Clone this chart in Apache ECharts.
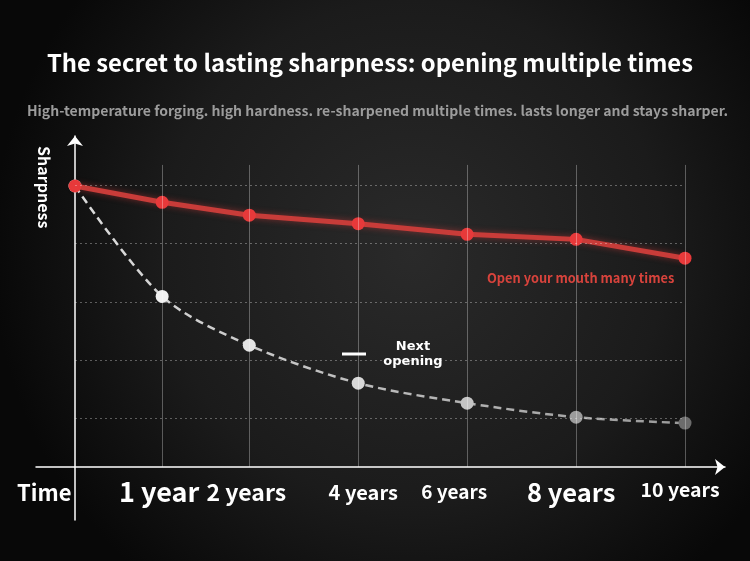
<!DOCTYPE html>
<html>
<head>
<meta charset="UTF-8">
<title></title>
<style>
  html, body { margin: 0; padding: 0; background: #000; }
  #chart { width: 750px; height: 561px; }
</style>
<script src="https://cdn.jsdelivr.net/npm/echarts@6/dist/echarts.min.js"></script>
</head>
<body>
<div id="chart"></div>
<script>
// x positions of the time marks (chart units, not evenly spaced in years)
var timePos = [0, 0.8, 1.6, 2.6, 3.6, 4.6, 5.6];
var timeLabels = ['', '1 year', '2 years', '4 years', '6 years', '8 years', '10 years'];
// sharpness (0 = time axis)
var reopened = [100, 94.2, 89.6, 86.6, 82.8, 81.0, 74.3];
var noReopen = [100, 60.7, 43.3, 29.8, 22.7, 17.7, 15.6];
// dotted guide levels and height of the vertical guides
var guideLevels = [100.4, 79.6, 58.6, 37.8, 17.3];
var guideTop = 107.5;

var titleText = 'The secret to lasting sharpness: opening multiple times';
var subText = 'High-temperature forging. high hardness. re-sharpened multiple times. lasts longer and stays sharper.';
var redName = 'Open your mouth many times';
var greyName = 'Next\nopening';

var FONT = '"Noto Sans CJK SC", "Noto Sans", sans-serif';
var greyDots = ['#f2f2f2', '#f0f0f0', '#e4e4e4', '#d8d8d8', '#c4c4c4', '#9c9c9c', '#6c6c6c'];
var labelStyle = {
  t1: { fontSize: 27, padding: [0, 6, 0, 0] },
  t2: { fontSize: 23, padding: [0, 6, 0, 0] },
  t3: { fontSize: 20, padding: [0, 0, 0, 10] },
  t4: { fontSize: 19, padding: [0, 26, 0, 0] },
  t5: { fontSize: 25.5, padding: [0, 10, 0, 0] },
  t6: { fontSize: 19.5, padding: [0, 10, 4, 0] }
};
Object.keys(labelStyle).forEach(function (k) {
  labelStyle[k].fontWeight = 'bold';
  labelStyle[k].color = '#fff';
  labelStyle[k].fontFamily = FONT;
});

function pairs(ys) {
  return timePos.map(function (x, i) { return [x, ys[i]]; });
}

var guides = [];
guideLevels.forEach(function (g) {
  guides.push([{ coord: [timePos[0], g], lineStyle: { type: [2, 3], color: 'rgba(255,255,255,0.32)' } },
               { coord: [timePos[timePos.length - 1], g] }]);
});
timePos.slice(1).forEach(function (x) {
  guides.push([{ coord: [x, 0], lineStyle: { type: 'solid', color: 'rgba(255,255,255,0.3)' } },
               { coord: [x, guideTop] }]);
});

var chart = echarts.init(document.getElementById('chart'));
chart.setOption({
  backgroundColor: {
    type: 'radial', x: 0.55, y: 0.45, r: 0.75,
    colorStops: [
      { offset: 0, color: '#2a2a2a' },
      { offset: 0.6, color: '#1b1b1b' },
      { offset: 1, color: '#080808' }
    ]
  },
  title: [
    { text: titleText, left: 42, top: 46,
      textStyle: { color: '#fff', fontSize: 23.8, fontWeight: 'bold', fontFamily: FONT } },
    { text: subText, left: 22, top: 99,
      textStyle: { color: '#9c9c9c', fontSize: 14, fontWeight: 'bold', fontFamily: FONT } }
  ],
  legend: {
    data: [greyName],
    left: 337, top: 335,
    icon: 'rect', itemWidth: 24, itemHeight: 3,
    itemStyle: { color: '#fff' },
    formatter: function (n) {
      return n.split('\n').map(function (s) { return '{a|' + s + '}'; }).join('\n');
    },
    textStyle: {
      rich: { a: { width: 84, align: 'center', color: '#fff', fontSize: 13, fontWeight: 'bold',
                   lineHeight: 15, fontFamily: '"DejaVu Sans", sans-serif' } }
    }
  },
  grid: { left: 36, right: 25, top: 136, bottom: 41 },
  xAxis: {
    type: 'value', min: -0.358, max: 5.967,
    axisLine: { onZero: true, symbol: ['none', 'arrow'], symbolSize: [12, 10],
                lineStyle: { color: '#fff', width: 1.5 } },
    axisTick: { show: false },
    splitLine: { show: false },
    axisLabel: {
      customValues: timePos.slice(1),
      margin: -28, verticalAlign: 'middle',
      formatter: function (v) {
        var best = 1;
        timePos.forEach(function (p, i) { if (Math.abs(p - v) < Math.abs(timePos[best] - v)) best = i; });
        return '{t' + best + '|' + timeLabels[best] + '}';
      },
      rich: labelStyle
    }
  },
  yAxis: {
    type: 'value', min: -18.9, max: 117.8,
    axisLine: { onZero: true, symbol: ['none', 'arrow'], symbolSize: [12, 10],
                lineStyle: { color: '#fff', width: 1.5 } },
    axisTick: { show: false },
    axisLabel: { show: false },
    splitLine: { show: false }
  },
  graphic: [
    { type: 'text', left: 17, top: 482,
      style: { text: 'Time', fill: '#fff', font: 'bold 22px ' + FONT } },
    { type: 'text', x: 52, y: 146, rotation: -Math.PI / 2,
      style: { text: 'Sharpness', fill: '#fff', font: 'bold 16px ' + FONT } },
    { type: 'text', left: 487, top: 272,
      style: { text: redName, fill: '#d8433c', font: 'bold 12.8px ' + FONT } }
  ],
  series: [
    {
      name: greyName,
      type: 'line',
      data: pairs(noReopen),
      smooth: 0.3,
      symbol: 'circle', symbolSize: 13,
      itemStyle: { color: function (p) { return greyDots[p.dataIndex]; } },
      lineStyle: {
        width: 2.5, type: [8, 5],
        color: { type: 'linear', x: 0, y: 0, x2: 1, y2: 0,
                 colorStops: [{ offset: 0, color: '#dcdcdc' }, { offset: 1, color: '#9a9a9a' }] }
      },
      z: 3
    },
    {
      name: redName,
      type: 'line',
      data: pairs(reopened),
      symbol: 'circle', symbolSize: 13,
      itemStyle: { color: '#e7393a' },
      lineStyle: { width: 5, color: '#c83c39', shadowBlur: 6, shadowColor: 'rgba(220,60,60,0.5)' },
      markLine: {
        silent: true, symbol: 'none', label: { show: false },
        lineStyle: { width: 1 },
        data: guides
      },
      z: 4
    }
  ]
});
</script>
</body>
</html>
